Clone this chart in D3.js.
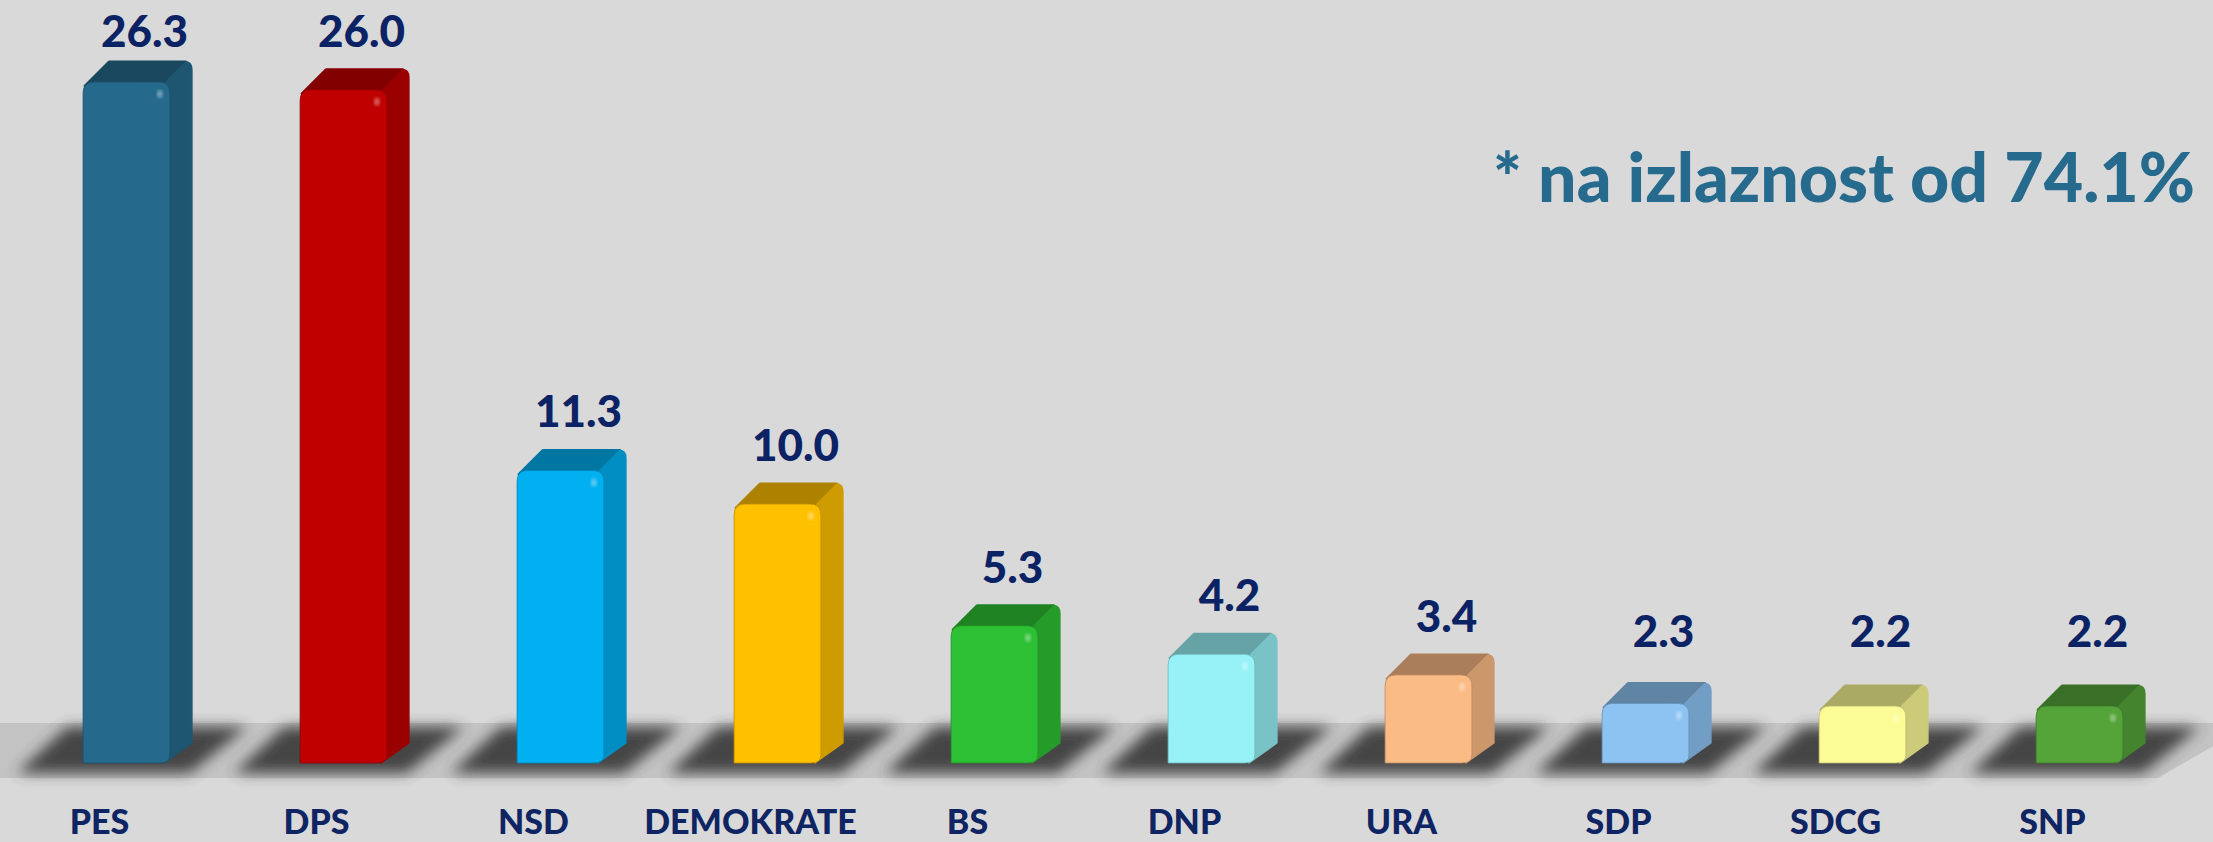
<!DOCTYPE html>
<html lang="sr">
  <head>
    <meta charset="UTF-8" />
    <title>Izbori - rezultati</title>
    <script src="https://d3js.org/d3.v7.min.js"></script>
    <style>
      body { margin: 0; background: #d9d9d9; }
      svg { display: block; }
      text { font-family: Lato, "Open Sans", sans-serif; font-weight: 900; }
    </style>
  </head>
  <body>
    <svg width="2213" height="842"></svg>

    <script>
      // podaci
      const parties = ["PES", "DPS", "NSD", "DEMOKRATE", "BS", "DNP", "URA", "SDP", "SDCG", "SNP"];
      const results = [26.3, 26.0, 11.3, 10.0, 5.3, 4.2, 3.4, 2.3, 2.2, 2.2];
      const frontColors = ["#256a8c", "#c00000", "#00b0f0", "#ffc000", "#2ec034", "#96f2f6", "#fbbb85", "#8dc3f3", "#fcfc96", "#54a43a"];
      const turnoutNote = "* na izlaznost od 74.1%";

      const svg = d3.select("svg");
      const width = +svg.attr("width");
      const height = +svg.attr("height");

      const baseY = 763;
      const depth = { x: 22, y: -20 };

      const x = d3.scaleBand()
        .domain(parties)
        .range([18, 2188])
        .paddingInner(0.6)
        .paddingOuter(0.3);

      const y = d3.scaleLinear()
        .domain([0, 26.3])
        .range([baseY, 82]);

      const data = parties.map((p, i) => ({ party: p, value: results[i], color: frontColors[i] }));

      const defs = svg.append("defs");
      defs.append("filter").attr("id", "shadowBlur")
        .attr("x", "-30%").attr("y", "-60%").attr("width", "160%").attr("height", "220%")
        .append("feGaussianBlur").attr("stdDeviation", 7);
      defs.append("filter").attr("id", "spotBlur")
        .append("feGaussianBlur").attr("stdDeviation", 1.5);

      // pod (floor)
      svg.append("path")
        .attr("d", `M-60,723 L${width + 40},723 L${width - 55},778 L-120,778 Z`)
        .attr("fill", "#c3c3c3");

      // sjenke
      const bw = x.bandwidth();
      svg.append("g").selectAll("path")
        .data(data)
        .join("path")
        .attr("d", d => {
          const x0 = x(d.party);
          const xr = x0 + bw + depth.x;
          return `M${x0 - 16},727 L${xr + 55},727 L${xr - 2},773 L${x0 - 66},773 Z`;
        })
        .attr("fill", "#3a3a3a")
        .attr("opacity", 0.92)
        .attr("filter", "url(#shadowBlur)");

      // stupci
      const bars = svg.append("g").selectAll("g")
        .data(data)
        .join("g");

      const r = 11;

      // gornja strana
      bars.append("path")
        .attr("d", d => {
          const x0 = x(d.party), yt = y(d.value);
          return `M${x0 + 2},${yt + 4} L${x0 + depth.x + 4},${yt + depth.y} L${x0 + bw + depth.x - 6},${yt + depth.y} L${x0 + bw - 4},${yt} Z`;
        })
        .attr("fill", d => d3.color(d.color).darker(1.1))
        .attr("stroke", d => d3.color(d.color).darker(1.1))
        .attr("stroke-width", 3)
        .attr("stroke-linejoin", "round");

      // bocna strana
      bars.append("path")
        .attr("d", d => {
          const x0 = x(d.party) + bw, yt = y(d.value);
          return `M${x0 - 4},${yt} L${x0 + depth.x - 6},${yt + depth.y} Q${x0 + depth.x},${yt + depth.y} ${x0 + depth.x},${yt + depth.y + 8} L${x0 + depth.x},${baseY + depth.y} L${x0 - 6},${baseY} Z`;
        })
        .attr("fill", d => d3.color(d.color).darker(0.6))
        .attr("stroke", d => d3.color(d.color).darker(0.6))
        .attr("stroke-width", 1.5)
        .attr("stroke-linejoin", "round");

      // prednja strana
      bars.append("path")
        .attr("d", d => {
          const x0 = x(d.party), x1 = x0 + bw, yt = y(d.value);
          return `M${x0},${baseY} L${x0},${yt + r} Q${x0},${yt} ${x0 + r},${yt} L${x1 - r},${yt} Q${x1},${yt} ${x1},${yt + r} L${x1},${baseY - 8} Q${x1},${baseY} ${x1 - 10},${baseY} Z`;
        })
        .attr("fill", d => d.color)
        .attr("stroke", d => d3.color(d.color).darker(0.8))
        .attr("stroke-width", 0.8);

      // odsjaj
      bars.append("ellipse")
        .attr("cx", d => x(d.party) + bw - 10)
        .attr("cy", d => y(d.value) + 12)
        .attr("rx", 3).attr("ry", 4)
        .attr("fill", "#ffffff")
        .attr("opacity", 0.35)
        .attr("filter", "url(#spotBlur)");

      // vrijednosti
      svg.append("g").selectAll("text")
        .data(data)
        .join("text")
        .attr("x", d => x(d.party) + bw / 2 + 18)
        .attr("y", d => Math.min(Math.max(y(d.value) - 43, 47), 647))
        .attr("text-anchor", "middle")
        .attr("font-size", 44)
        .attr("fill", "#0b2265")
        .text(d => d.value.toFixed(1));

      // nazivi partija
      svg.append("g").selectAll("text")
        .data(data)
        .join("text")
        .attr("x", d => x(d.party) + bw / 2 - 27)
        .attr("y", 834)
        .attr("text-anchor", "middle")
        .attr("font-size", 34)
        .attr("fill", "#0f2463")
        .text(d => d.party);

      // napomena
      svg.append("text")
        .attr("x", 2195)
        .attr("y", 202)
        .attr("text-anchor", "end")
        .attr("font-size", 68)
        .attr("fill", "#266a8e")
        .text(turnoutNote);
    </script>
  </body>
</html>
